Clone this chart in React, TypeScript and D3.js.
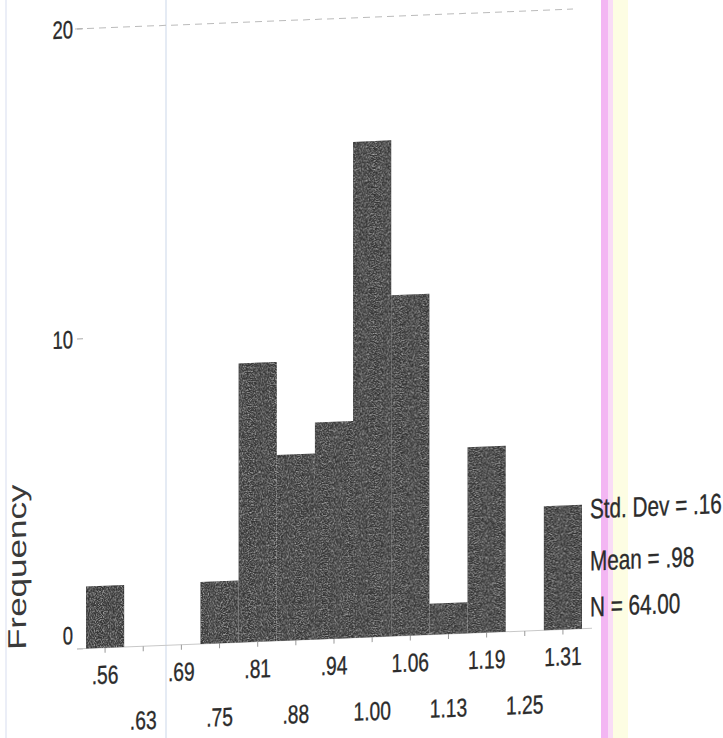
import * as d3 from "d3";

// histogram bins (midpoints as printed) and counts
const binLabels = [".56", ".63", ".69", ".75", ".81", ".88", ".94", "1.00", "1.06", "1.13", "1.19", "1.25", "1.31"];
const frequencies = [2, 0, 0, 2, 9, 6, 7, 16, 11, 1, 6, 0, 4];
const yTicks = [0, 10, 20];
const statLines = ["Std. Dev = .16", "Mean = .98", "N = 64.00"];

const W = 723, H = 738;
const SX = 0.74; // scan is squeezed horizontally
const FONT = "'Liberation Sans', Arial, sans-serif";
const INK = "#2b2b2b";

function Label({ x, y, text, size, anchor = "start" }: { x: number; y: number; text: string; size: number; anchor?: string }) {
  return (
    <text transform={`translate(${x},${y}) scale(${SX},1)`} textAnchor={anchor}
      style={{ fontFamily: FONT, fontSize: size, fill: INK, stroke: INK, strokeWidth: 0.35 }}>{text}</text>
  );
}

export default function App() {
  const x = d3.scaleBand<string>().domain(binLabels).range([86, 582]).paddingInner(0);
  const y = d3.scaleLinear().domain([0, 20]).range([652, 32]);
  const bins = binLabels.map((b, i) => ({ b, n: frequencies[i] })).filter(d => d.n > 0);

  return (
    <>
      <style>{"body{margin:0}"}</style>
      <svg width={W} height={H} style={{ display: "block", background: "#fff" }}>
        <defs>
          <filter id="grain">
            <feTurbulence type="fractalNoise" baseFrequency="0.85" numOctaves="2" seed="7" />
            <feColorMatrix type="matrix" values="0 0 0 0 1  0 0 0 0 1  0 0 0 0 1  1.6 0 0 0 -0.65" />
            <feComposite in2="SourceGraphic" operator="in" />
          </filter>
        </defs>

        {/* scanner streaks */}
        <line x1={6} x2={6} y1={0} y2={H} stroke="#e4e9f4" strokeWidth={1.5} />
        <line x1={166} x2={166} y1={0} y2={H} stroke="#dde4f1" strokeWidth={1.5} />
        <rect x={601} y={0} width={7} height={H} fill="#f3b6f3" />
        <rect x={608} y={0} width={5} height={H} fill="#f9dcf6" />
        <rect x={613} y={0} width={15} height={H} fill="#fdfde3" />

        <g transform="matrix(1,-0.04,0,1,0,0)">
          {/* y axis */}
          <line x1={75} x2={573} y1={y(20)} y2={y(20)} stroke="#bbb" strokeDasharray="7,5" />
          {yTicks.map(t => (
            <g key={t}>
              <line x1={77} x2={83} y1={y(t)} y2={y(t)} stroke="#aaa" />
              <Label x={73} y={y(t) + 9 - (t === 0 ? 14 : 0)} text={String(t)} size={25} anchor="end" />
            </g>
          ))}
          <text transform={`translate(26,568) scale(${SX},1) rotate(-90)`} textAnchor="middle"
            style={{ fontFamily: FONT, fontSize: 35, fill: "#3a3a3a" }}>Frequency</text>

          {/* x axis */}
          <line x1={80} x2={592} y1={y(0)} y2={y(0)} stroke="#c8c8c8" />
          {binLabels.map((b, i) => {
            const cx = x(b)! + x.bandwidth() / 2;
            return (
              <g key={b}>
                <line x1={cx} x2={cx} y1={y(0)} y2={y(0) + 5} stroke="#999" />
                <Label x={cx} y={i % 2 === 0 ? 688 : 735} text={b} size={26} anchor="middle" />
              </g>
            );
          })}

          {/* bars */}
          <g>
            {bins.map(d => (
              <rect key={d.b} x={x(d.b)} y={y(d.n)} width={x.bandwidth()} height={y(0) - y(d.n)} fill="#323232" />
            ))}
          </g>
          <g filter="url(#grain)">
            {bins.map(d => (
              <rect key={d.b} x={x(d.b)} y={y(d.n)} width={x.bandwidth()} height={y(0) - y(d.n)} fill="#fff" />
            ))}
          </g>

          {/* statistics */}
          {statLines.map((s, i) => (
            <Label key={s} x={590} y={[542, 594, 640][i]} text={s} size={28} />
          ))}
        </g>
      </svg>
    </>
  );
}
